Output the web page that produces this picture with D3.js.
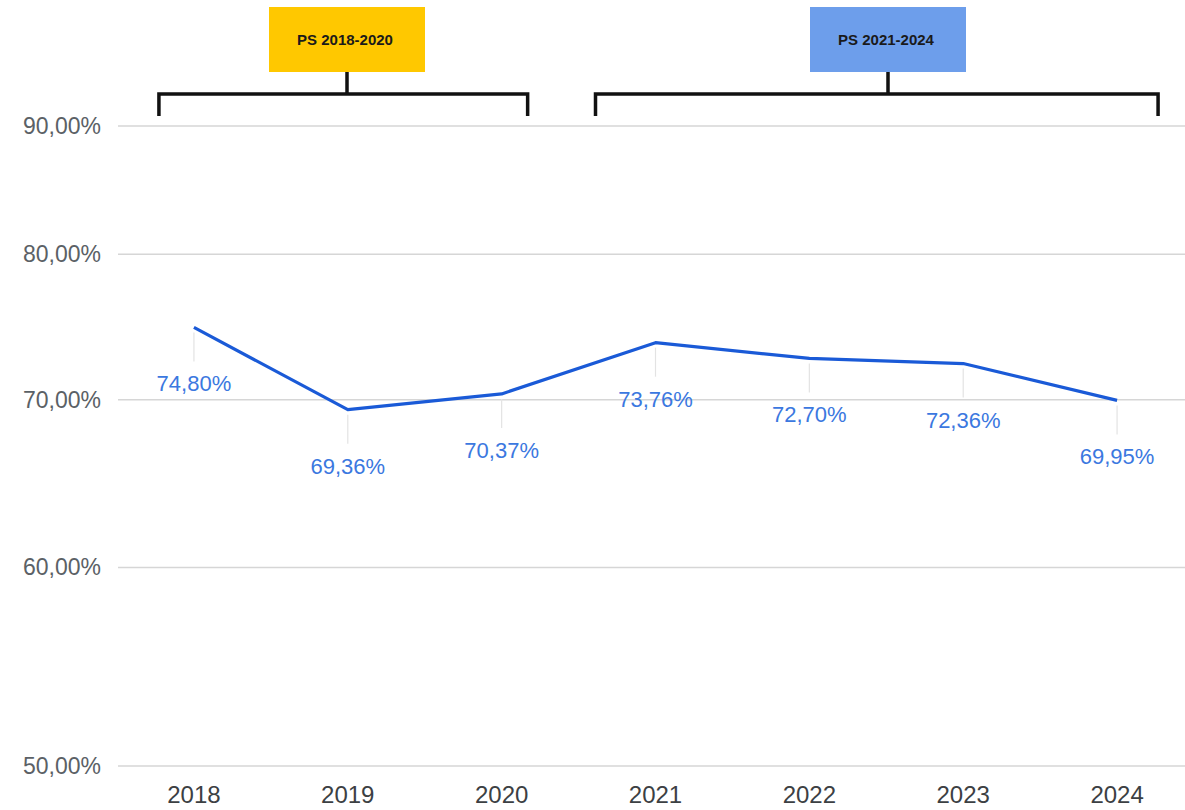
<!DOCTYPE html>
<html>
<head>
<meta charset="utf-8">
<script src="https://cdn.jsdelivr.net/npm/d3@7"></script>
<style>
  html, body { margin: 0; padding: 0; background: #fff; }
  svg { display: block; font-family: "Liberation Sans", Arial, sans-serif; }
</style>
</head>
<body>
<svg id="chart" width="1185" height="810"></svg>
<script>
// ---- data ----
const years = ["2018", "2019", "2020", "2021", "2022", "2023", "2024"];
const values = [74.80, 69.36, 70.37, 73.76, 72.70, 72.36, 69.95];
const valueLabels = ["74,80%", "69,36%", "70,37%", "73,76%", "72,70%", "72,36%", "69,95%"];
const yTicks = [50, 60, 70, 80, 90];
const yTickLabels = ["50,00%", "60,00%", "70,00%", "80,00%", "90,00%"];
const periodLabels = ["PS 2018-2020", "PS 2021-2024"];
const periodStart = ["2018", "2021"];
const periodEnd = ["2020", "2024"];
const periodColors = ["#ffc800", "#6d9eeb"];

// ---- layout ----
const svg = d3.select("#chart");
const x = d3.scalePoint().domain(years).range([117, 1194]).padding(0.5);
const y = d3.scaleLog().domain([50, 90]).range([766, 126]);

// gridlines
svg.append("g").selectAll("line").data(yTicks).join("line")
  .attr("x1", 118).attr("x2", 1185)
  .attr("y1", d => y(d)).attr("y2", d => y(d))
  .attr("stroke", "#d6d6d6").attr("stroke-width", 1.5);

// y labels
svg.append("g").selectAll("text").data(yTicks).join("text")
  .attr("x", 101).attr("y", d => y(d) + 8)
  .attr("text-anchor", "end")
  .attr("font-size", 23).attr("fill", "#5b6166")
  .text((d, i) => yTickLabels[i]);

// x labels
svg.append("g").selectAll("text").data(years).join("text")
  .attr("x", d => x(d)).attr("y", 803)
  .attr("text-anchor", "middle")
  .attr("font-size", 24).attr("fill", "#3c4043")
  .text(d => d);

const pts = years.map((yr, i) => ({yr, v: values[i], lab: valueLabels[i]}));

// leader lines
svg.append("g").selectAll("line").data(pts).join("line")
  .attr("x1", d => x(d.yr)).attr("x2", d => x(d.yr))
  .attr("y1", d => y(d.v) + 5).attr("y2", d => y(d.v) + 34)
  .attr("stroke", "#e3e3e3").attr("stroke-width", 1.2);

// line
svg.append("path").datum(pts)
  .attr("fill", "none").attr("stroke", "#1a5ad7").attr("stroke-width", 3.2)
  .attr("stroke-linejoin", "round")
  .attr("d", d3.line().x(d => x(d.yr)).y(d => y(d.v)));

// value labels
svg.append("g").selectAll("text").data(pts).join("text")
  .attr("x", d => x(d.yr)).attr("y", d => y(d.v) + 64)
  .attr("text-anchor", "middle")
  .attr("font-size", 22).attr("fill", "#3b78e0")
  .text(d => d.lab);

// period brackets
const periods = periodLabels.map((l, i) => ({l, s: periodStart[i], e: periodEnd[i], c: periodColors[i]}));
const leftOff = [35, 60], rightOff = [26, 41], boxCx = [347, 888];
const bracketY = 94, tickY = 116, boxTop = 7, boxH = 65, boxW = 156;
const g = svg.append("g");
periods.forEach((p, i) => {
  const x1 = x(p.s) - leftOff[i], x2 = x(p.e) + rightOff[i];
  const cx = boxCx[i];
  g.append("path")
    .attr("d", `M${x1},${tickY} V${bracketY} H${x2} V${tickY} M${cx},${bracketY} V${boxTop + boxH}`)
    .attr("fill", "none").attr("stroke", "#111").attr("stroke-width", 3.5)
    .attr("stroke-linejoin", "miter");
  g.append("rect")
    .attr("x", cx - boxW / 2).attr("y", boxTop).attr("width", boxW).attr("height", boxH)
    .attr("fill", p.c);
  g.append("text")
    .attr("x", cx - 2).attr("y", boxTop + boxH / 2 + 5.5)
    .attr("text-anchor", "middle").attr("font-size", 15).attr("font-weight", "bold")
    .attr("fill", "#1a1a1a")
    .text(p.l);
});
</script>
</body>
</html>
